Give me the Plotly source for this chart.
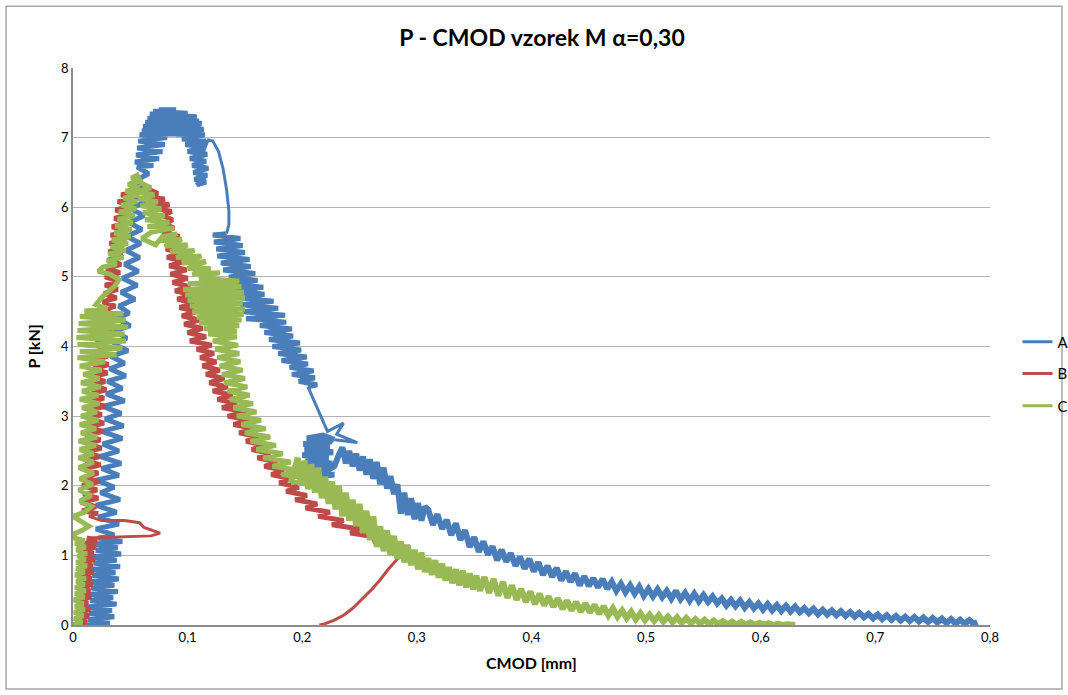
import plotly.graph_objects as go

# ---------------- data ----------------
x_ticks = [0, 0.1, 0.2, 0.3, 0.4, 0.5, 0.6, 0.7, 0.8]
x_tick_labels = ["0", "0,1", "0,2", "0,3", "0,4", "0,5", "0,6", "0,7", "0,8"]
y_ticks = [0, 1, 2, 3, 4, 5, 6, 7, 8]
y_tick_labels = ["0", "1", "2", "3", "4", "5", "6", "7", "8"]

series_names = ["A", "B", "C"]
series_colors = ["#4A7EBB", "#BE4B48", "#98B954"]

# Each measured curve (CMOD [mm], P [kN]) is stored in consecutive pieces.
A_rise = [
    (0.012,0.0),(0.032,0.03),(0.013,0.08),(0.036,0.12),(0.014,0.17),(0.034,0.21),(0.012,0.26),(0.038,0.3),
    (0.015,0.35),(0.035,0.39),(0.013,0.44),(0.039,0.48),(0.016,0.53),(0.036,0.57),(0.014,0.62),(0.04,0.66),
    (0.017,0.71),(0.037,0.75),(0.015,0.8),(0.041,0.84),(0.018,0.89),(0.038,0.93),(0.016,0.98),(0.042,1.02),
    (0.02,1.07),(0.039,1.11),(0.018,1.16),(0.043,1.2),(0.022,1.25),(0.036,1.29),
    (0.02,1.38),(0.04,1.45),(0.022,1.55),(0.038,1.62),(0.02,1.72),(0.041,1.8),(0.024,1.9),(0.036,1.98),
    (0.02,2.08),(0.04,2.15),(0.025,2.25),(0.042,2.32),(0.024,2.42),(0.04,2.5),
    (0.026,2.6),(0.043,2.68),(0.025,2.78),(0.044,2.86),(0.028,2.96),(0.042,3.04),(0.026,3.14),(0.045,3.22),
    (0.029,3.32),(0.043,3.4),(0.03,3.5),(0.046,3.58),(0.032,3.68),(0.045,3.76),(0.033,3.86),(0.048,3.94),
    (0.035,4.04),(0.047,4.12),(0.036,4.22),(0.05,4.3),(0.038,4.4),(0.049,4.48),(0.04,4.58),
    (0.054,4.68),(0.042,4.78),(0.056,4.88),(0.043,4.98),(0.057,5.08),(0.045,5.18),(0.058,5.28),(0.046,5.38),
    (0.059,5.48),(0.047,5.58),(0.06,5.68),(0.049,5.78),(0.062,5.88),(0.05,5.98),(0.063,6.08),(0.052,6.18),
    (0.064,6.28),(0.054,6.38),(0.066,6.48),(0.056,6.58),
    (0.07,6.6),(0.054,6.65),(0.075,6.7),(0.055,6.75),(0.078,6.8),(0.056,6.85),(0.08,6.9),(0.057,6.95),
    (0.082,7.0),(0.058,7.04),(0.1,7.06),(0.06,7.1),(0.105,7.12),(0.061,7.16),(0.108,7.18),(0.063,7.22),
    (0.11,7.24),(0.065,7.28),(0.108,7.3),(0.067,7.34),(0.1,7.35),(0.07,7.38),(0.09,7.4),(0.075,7.4),
    (0.112,7.2),(0.085,7.15),(0.114,7.12),
    (0.09,7.05),(0.115,7.04),(0.095,6.98),(0.116,6.95),(0.098,6.9),(0.115,6.86),(0.1,6.8),(0.117,6.76),
    (0.102,6.7),(0.116,6.66),(0.104,6.6),(0.118,6.56),(0.105,6.5),(0.117,6.46),(0.106,6.4),(0.116,6.36),
    (0.108,6.32),(0.114,6.42),(0.11,6.6),(0.113,6.8),(0.117,6.97),
]
A_arc = [(0.117,6.97),(0.122,6.95),(0.127,6.8),(0.131,6.55),(0.134,6.25),(0.136,5.95),(0.136,5.75),(0.134,5.62)]
A_band = [
    (0.134,5.62),
    (0.122,5.6),(0.146,5.55),(0.123,5.5),(0.148,5.45),(0.125,5.4),(0.15,5.35),(0.126,5.3),(0.154,5.25),
    (0.129,5.2),(0.155,5.15),(0.131,5.1),(0.159,5.05),(0.136,5.0),(0.161,4.95),(0.138,4.9),(0.166,4.85),
    (0.14,4.8),(0.167,4.75),(0.145,4.7),(0.175,4.65),(0.146,4.6),(0.179,4.55),(0.148,4.5),(0.185,4.45),
    (0.151,4.4),(0.186,4.35),(0.163,4.3),(0.191,4.25),(0.167,4.2),(0.192,4.15),(0.171,4.1),(0.198,4.05),
    (0.174,4.0),(0.199,3.95),(0.179,3.9),(0.204,3.85),(0.182,3.8),(0.205,3.75),(0.189,3.7),(0.21,3.65),
    (0.191,3.6),(0.211,3.55),(0.197,3.5),(0.213,3.45),(0.205,3.42),
]
A_jump = [(0.205,3.42),(0.222,2.78),(0.236,2.9),(0.23,2.74),(0.248,2.62),(0.228,2.66)]
A_tail = [
    (0.228,2.66),
    (0.218,2.72),(0.204,2.68),(0.226,2.64),(0.201,2.6),(0.224,2.56),(0.202,2.52),(0.227,2.48),(0.2,2.44),
    (0.223,2.4),(0.203,2.36),(0.226,2.32),(0.205,2.28),(0.224,2.24),(0.206,2.2),(0.228,2.16),(0.212,2.13),
    (0.228,2.28),(0.232,2.45),
    (0.235,2.55),(0.238,2.32),(0.241,2.5),(0.244,2.28),(0.247,2.46),(0.25,2.22),(0.253,2.42),(0.256,2.16),
    (0.259,2.38),(0.262,2.1),(0.265,2.34),(0.268,2.02),(0.271,2.26),(0.274,1.96),(0.277,2.14),(0.28,1.88),
    (0.283,2.02),(0.286,1.6),(0.289,1.9),(0.292,1.58),(0.295,1.82),(0.298,1.52),(0.301,1.75),(0.304,1.5),
    (0.307,1.7),
    (0.31,1.65),(0.314,1.44),(0.318,1.59),(0.322,1.38),(0.326,1.51),(0.33,1.29),(0.334,1.46),(0.338,1.22),
    (0.342,1.36),(0.346,1.12),(0.35,1.26),(0.354,1.05),(0.358,1.2),(0.362,1.01),(0.366,1.13),(0.37,0.93),
    (0.374,1.08),(0.378,0.91),(0.382,1.03),(0.386,0.85),(0.39,0.98),(0.394,0.81),(0.398,0.95),(0.402,0.77),
    (0.406,0.9),(0.41,0.72),(0.414,0.85),(0.418,0.69),(0.422,0.82),(0.426,0.64),(0.43,0.77),(0.434,0.62),
    (0.438,0.74),(0.442,0.57),(0.446,0.7),(0.45,0.56),(0.454,0.67),(0.458,0.54),(0.462,0.66),(0.466,0.52),
    (0.47,0.62),(0.474,0.49),(0.478,0.59),(0.482,0.47),(0.486,0.57),(0.49,0.45),(0.494,0.55),(0.498,0.42),
    (0.502,0.52),(0.506,0.41),(0.51,0.51),(0.514,0.4),(0.518,0.49),(0.522,0.38),(0.526,0.49),(0.53,0.37),
    (0.534,0.46),(0.538,0.35),(0.542,0.45),(0.546,0.34),(0.55,0.43),(0.554,0.33),(0.558,0.41),(0.562,0.31),
    (0.566,0.38),(0.57,0.28),(0.574,0.36),(0.578,0.27),(0.582,0.35),(0.586,0.25),(0.59,0.33),(0.594,0.24),
    (0.598,0.31),(0.602,0.22),(0.606,0.3),(0.61,0.21),(0.614,0.285),(0.618,0.2),(0.622,0.275),(0.626,0.195),
    (0.63,0.265),(0.634,0.185),(0.638,0.245),(0.642,0.17),(0.646,0.235),(0.65,0.155),(0.654,0.22),(0.658,0.15),
    (0.662,0.21),(0.666,0.14),(0.67,0.2),(0.674,0.13),(0.678,0.185),(0.682,0.12),(0.686,0.175),(0.69,0.11),
    (0.694,0.16),(0.698,0.095),(0.702,0.15),(0.706,0.085),(0.71,0.14),(0.714,0.075),(0.718,0.13),(0.722,0.065),
    (0.726,0.12),(0.73,0.058),(0.734,0.115),(0.738,0.052),(0.742,0.108),(0.746,0.044),(0.75,0.1),(0.754,0.036),
    (0.758,0.092),(0.762,0.028),(0.766,0.084),(0.77,0.02),(0.774,0.077),(0.778,0.019),(0.782,0.07),(0.786,0.016),
    (0.789,0.04),
]

B_rise1 = [
    (0.0,0.0),(0.012,0.04),(0.003,0.09),(0.014,0.13),(0.004,0.18),(0.015,0.22),(0.003,0.27),(0.013,0.31),
    (0.005,0.36),(0.016,0.4),(0.004,0.45),(0.015,0.49),(0.006,0.54),(0.017,0.58),(0.005,0.63),(0.016,0.67),
    (0.007,0.72),(0.018,0.76),(0.006,0.81),(0.017,0.85),(0.008,0.9),(0.019,0.94),(0.007,0.99),(0.018,1.03),
    (0.009,1.08),(0.02,1.12),(0.01,1.17),(0.021,1.21),(0.012,1.25),
]
B_spike = [(0.012,1.25),(0.05,1.27),(0.068,1.28),(0.076,1.32),(0.068,1.36),(0.062,1.4),(0.058,1.47),
           (0.045,1.5),(0.025,1.5),(0.014,1.56),(0.022,1.6)]
B_main = [
    (0.022,1.6),
    (0.008,1.64),(0.02,1.7),(0.007,1.76),(0.022,1.82),(0.009,1.88),(0.021,1.94),(0.008,2.0),(0.023,2.06),
    (0.01,2.12),(0.022,2.18),(0.009,2.24),(0.024,2.3),(0.011,2.36),(0.023,2.42),(0.01,2.48),(0.025,2.54),
    (0.012,2.6),(0.024,2.66),(0.011,2.72),(0.026,2.78),(0.013,2.84),(0.027,2.9),(0.014,2.96),(0.025,3.02),
    (0.013,3.08),(0.028,3.14),(0.015,3.2),(0.027,3.26),(0.016,3.32),(0.029,3.38),(0.017,3.44),(0.028,3.5),
    (0.016,3.56),(0.03,3.62),(0.018,3.68),(0.031,3.74),(0.019,3.8),(0.03,3.86),(0.018,3.92),(0.032,3.98),
    (0.02,4.04),(0.033,4.1),(0.022,4.16),(0.034,4.22),(0.023,4.28),(0.035,4.34),(0.024,4.4),(0.036,4.46),
    (0.025,4.52),(0.037,4.58),(0.026,4.64),(0.038,4.7),(0.027,4.76),(0.039,4.82),(0.028,4.88),(0.04,4.94),
    (0.028,5.0),(0.041,5.06),(0.029,5.12),(0.042,5.18),(0.03,5.24),(0.043,5.3),(0.031,5.36),(0.044,5.42),
    (0.032,5.48),(0.046,5.54),(0.033,5.6),(0.047,5.66),(0.034,5.72),(0.048,5.78),(0.036,5.84),(0.05,5.9),
    (0.037,5.96),(0.052,6.02),(0.039,6.08),(0.055,6.12),(0.042,6.18),(0.058,6.22),(0.05,6.28),(0.068,6.24),
    (0.074,6.2),(0.066,6.14),(0.08,6.12),(0.07,6.06),(0.084,6.04),(0.074,5.98),(0.086,5.94),(0.078,5.88),
    (0.087,5.82),(0.08,5.76),(0.088,5.7),
    (0.078,5.64),(0.093,5.58),(0.08,5.52),(0.094,5.46),(0.081,5.4),(0.095,5.34),(0.082,5.28),(0.097,5.22),
    (0.084,5.16),(0.099,5.1),(0.085,5.04),(0.1,4.98),(0.087,4.92),(0.102,4.86),(0.089,4.8),(0.104,4.74),
    (0.091,4.68),(0.106,4.62),(0.093,4.56),(0.108,4.5),(0.095,4.44),(0.11,4.38),(0.097,4.32),(0.113,4.26),
    (0.1,4.2),(0.116,4.14),(0.102,4.08),(0.121,4.02),(0.108,3.96),(0.123,3.9),(0.111,3.84),(0.125,3.78),
    (0.113,3.72),(0.128,3.66),(0.116,3.6),(0.132,3.54),(0.119,3.48),(0.135,3.42),(0.122,3.36),(0.139,3.3),
    (0.126,3.24),(0.143,3.18),(0.13,3.12),(0.152,3.06),(0.135,3.0),(0.155,2.94),(0.14,2.88),(0.158,2.82),
    (0.145,2.76),(0.162,2.7),(0.151,2.64),(0.167,2.58),(0.156,2.52),(0.172,2.46),(0.161,2.4),(0.178,2.34),
    (0.167,2.28),(0.184,2.22),(0.173,2.16),(0.19,2.1),(0.18,2.04),(0.197,1.98),(0.186,1.92),(0.204,1.86),
    (0.194,1.8),(0.213,1.74),(0.203,1.68),(0.224,1.62),(0.214,1.56),(0.236,1.5),(0.226,1.44),(0.25,1.38),
    (0.242,1.32),(0.266,1.26),(0.262,1.2),(0.28,1.16),(0.278,1.12),(0.294,1.12),
]
B_unload = [(0.294,1.12),(0.288,1.04),(0.282,0.93),(0.275,0.8),(0.268,0.65),(0.26,0.5),(0.252,0.37),
            (0.244,0.24),(0.236,0.14),(0.228,0.07),(0.22,0.02),(0.215,0.0)]

C_rise = [
    (0.0,0.0),(0.008,0.04),(0.001,0.09),(0.009,0.13),(0.001,0.18),(0.01,0.22),(0.002,0.27),(0.009,0.31),
    (0.001,0.36),(0.01,0.4),(0.002,0.45),(0.011,0.49),(0.002,0.54),(0.01,0.58),(0.003,0.63),(0.011,0.67),
    (0.002,0.72),(0.01,0.76),(0.003,0.81),(0.012,0.85),(0.003,0.9),(0.011,0.94),(0.004,0.99),(0.012,1.03),
    (0.003,1.08),(0.011,1.12),(0.002,1.17),(0.01,1.21),(0.001,1.25),
    (0.0,1.3),(0.008,1.36),(0.014,1.42),(0.006,1.5),(0.0,1.56),(0.01,1.62),(0.016,1.7),(0.006,1.78),
    (0.016,1.86),(0.005,1.94),(0.017,2.02),(0.006,2.1),(0.018,2.18),(0.005,2.26),(0.018,2.34),
    (0.005,2.4),(0.018,2.46),(0.006,2.52),(0.02,2.58),(0.005,2.64),(0.021,2.7),(0.007,2.76),(0.02,2.82),
    (0.006,2.88),(0.022,2.94),(0.007,3.0),(0.021,3.06),(0.008,3.12),(0.023,3.18),(0.006,3.24),(0.022,3.3),
    (0.008,3.36),(0.024,3.42),(0.007,3.48),(0.023,3.54),(0.009,3.6),(0.025,3.66),(0.006,3.72),(0.028,3.78),
    (0.004,3.84),(0.038,3.88),(0.006,3.93),(0.043,3.98),(0.004,4.03),(0.046,4.08),(0.003,4.13),(0.045,4.18),
    (0.004,4.23),(0.048,4.28),(0.005,4.33),(0.046,4.38),(0.006,4.43),(0.044,4.47),(0.01,4.51),(0.03,4.54),
    (0.02,4.6),(0.026,4.72),(0.036,4.86),(0.04,4.96),(0.032,5.04),(0.022,5.08),(0.026,5.14),
    (0.038,5.18),(0.03,5.23),(0.044,5.28),(0.031,5.33),(0.046,5.38),(0.033,5.43),(0.048,5.48),(0.034,5.53),
    (0.05,5.58),(0.036,5.63),(0.051,5.68),(0.037,5.73),(0.052,5.78),(0.039,5.83),(0.054,5.88),(0.04,5.93),
    (0.055,5.98),(0.042,6.03),(0.056,6.08),(0.044,6.13),(0.057,6.18),(0.046,6.23),(0.058,6.28),(0.048,6.33),
    (0.058,6.38),(0.051,6.42),(0.056,6.46),
    (0.06,6.34),(0.068,6.28),(0.055,6.22),(0.071,6.18),(0.057,6.12),(0.074,6.08),(0.059,6.02),(0.077,5.98),
    (0.061,5.92),(0.08,5.88),(0.063,5.82),(0.084,5.78),(0.065,5.72),(0.088,5.7),(0.068,5.64),(0.06,5.55),
    (0.072,5.46),(0.078,5.58),(0.091,5.62),(0.076,5.52),(0.095,5.54),(0.08,5.44),(0.1,5.46),(0.085,5.36),
    (0.106,5.38),(0.09,5.28),(0.112,5.3),(0.095,5.2),(0.116,5.22),(0.1,5.12),(0.12,5.12),(0.104,5.04),
    (0.128,5.06),(0.11,4.98),
    (0.145,4.94),(0.1,4.9),(0.147,4.86),(0.096,4.82),(0.149,4.78),(0.098,4.74),(0.15,4.7),(0.1,4.66),
    (0.148,4.62),(0.102,4.58),(0.15,4.54),(0.104,4.5),(0.149,4.46),(0.108,4.42),(0.147,4.38),(0.11,4.34),
    (0.145,4.3),(0.114,4.26),(0.143,4.22),(0.118,4.18),
    (0.143,4.14),(0.122,4.08),(0.144,4.02),(0.124,3.96),(0.145,3.9),(0.126,3.84),(0.146,3.78),(0.128,3.72),
    (0.148,3.66),(0.13,3.6),(0.15,3.54),(0.132,3.48),(0.152,3.42),(0.135,3.36),(0.154,3.3),(0.137,3.24),
    (0.157,3.18),(0.14,3.12),(0.16,3.06),(0.143,3.0),(0.164,2.94),(0.147,2.88),(0.168,2.82),(0.15,2.76),
    (0.172,2.7),(0.155,2.64),(0.177,2.58),(0.16,2.52),(0.183,2.46),(0.166,2.4),(0.19,2.34),(0.174,2.28),
    (0.198,2.22),(0.182,2.16),(0.207,2.1),(0.19,2.04),
]
C_tail = [
    (0.19,2.04),
    (0.196,2.4),(0.199,2.0),(0.202,2.36),(0.205,1.95),(0.208,2.31),(0.211,1.9),(0.214,2.26),(0.217,1.82),
    (0.22,2.13),(0.223,1.74),(0.226,2.06),(0.229,1.66),(0.232,2.0),(0.235,1.56),(0.238,1.9),(0.241,1.5),
    (0.244,1.8),(0.247,1.42),(0.25,1.74),(0.253,1.32),(0.256,1.64),(0.259,1.22),(0.262,1.56),(0.265,1.12),
    (0.268,1.42),(0.271,1.06),(0.274,1.36),(0.277,1.0),(0.28,1.28),(0.283,0.95),(0.286,1.2),(0.289,0.9),
    (0.292,1.14),(0.295,0.86),(0.298,1.08),(0.301,0.8),(0.304,1.04),(0.307,0.76),(0.31,0.96),(0.313,0.72),
    (0.316,0.93),(0.319,0.68),(0.322,0.88),(0.325,0.64),(0.328,0.83),(0.331,0.6),(0.334,0.8),(0.337,0.57),
    (0.34,0.78),(0.343,0.54),(0.346,0.74),(0.349,0.51),(0.352,0.71),(0.355,0.49),(0.359,0.69),(0.363,0.46),
    (0.367,0.66),(0.371,0.42),(0.375,0.62),(0.379,0.39),(0.383,0.57),(0.387,0.36),(0.391,0.52),(0.395,0.33),
    (0.399,0.48),(0.403,0.3),(0.407,0.45),(0.411,0.28),(0.415,0.41),(0.419,0.26),(0.423,0.38),(0.427,0.23),
    (0.431,0.35),(0.435,0.21),(0.439,0.33),(0.443,0.19),(0.447,0.31),(0.451,0.18),(0.455,0.29),(0.459,0.16),
    (0.463,0.27),(0.467,0.14),(0.471,0.24),(0.475,0.12),(0.479,0.21),(0.483,0.1),(0.487,0.19),(0.491,0.08),
    (0.495,0.17),(0.499,0.07),(0.503,0.15),(0.507,0.06),(0.511,0.14),(0.515,0.05),(0.519,0.12),(0.523,0.04),
    (0.527,0.11),(0.531,0.03),(0.535,0.1),(0.539,0.025),(0.543,0.085),(0.547,0.02),(0.551,0.075),(0.555,0.015),
    (0.559,0.065),(0.563,0.01),(0.567,0.055),(0.571,0.008),(0.575,0.05),(0.579,0.005),(0.583,0.045),(0.587,0.004),
    (0.591,0.038),(0.595,0.003),(0.599,0.032),(0.603,0.002),(0.607,0.025),(0.611,0.0),(0.615,0.02),(0.619,0.0),
    (0.623,0.012),(0.63,0.0),
]

# pieces per series with a stroke class: "smooth", "noisy", "ribbon"
series_pieces = [
    [(A_rise, "noisy"), (A_arc, "smooth"), (A_band, "noisy"), (A_jump, "smooth"), (A_tail, "ribbon")],
    [(B_rise1, "noisy"), (B_spike, "smooth"), (B_main, "noisy"), (B_unload, "smooth")],
    [(C_rise, "noisy"), (C_tail, "ribbon")],
]
legend_ypos = [0.508, 0.451, 0.393]   # legend rows (paper fraction)

# ---------------- figure ----------------
FONT = "Lato, 'Open Sans', sans-serif"
STROKE = {"smooth": 3, "noisy": 5, "ribbon": 6}
fig = go.Figure()
legend_ids = ["legend", "legend2", "legend3"]
for name, color, pieces, lg in zip(series_names, series_colors, series_pieces, legend_ids):
    for pts, kind in pieces:
        fig.add_trace(go.Scatter(
            x=[p[0] for p in pts], y=[p[1] for p in pts],
            mode="lines", name=name, legendgroup=name,
            showlegend=False, hoverinfo="skip",
            line=dict(color=color, width=STROKE[kind]),
        ))
    # legend entry for the series (thin key line, as in the reference legend)
    fig.add_trace(go.Scatter(
        x=[None], y=[None], mode="lines", name=name, legend=lg, legendgroup=name,
        showlegend=True, hoverinfo="skip", line=dict(color=color, width=3),
    ))

leg_common = dict(
    xanchor="left", yanchor="middle", bgcolor="rgba(0,0,0,0)",
    font=dict(family=FONT, size=15, color="#000"), borderwidth=0,
)
fig.update_layout(
    width=1068, height=695,
    showlegend=True,
    margin=dict(l=73, r=78, t=68, b=70, autoexpand=False),
    paper_bgcolor="white", plot_bgcolor="white",
    title=dict(text="<b>P - CMOD vzorek M α=0,30</b>", x=0.5075, xanchor="center",
               y=0.945, yanchor="middle", font=dict(family=FONT, size=23, color="#000")),
    legend=dict(x=1.03, y=legend_ypos[0], **leg_common),
    legend2=dict(x=1.03, y=legend_ypos[1], **leg_common),
    legend3=dict(x=1.03, y=legend_ypos[2], **leg_common),
    xaxis=dict(range=[0, 0.8], tickvals=x_ticks, ticktext=x_tick_labels, showgrid=False,
               zeroline=False, showline=True, linecolor="#8c8c8c", linewidth=1.5,
               ticks="", automargin=False, tickfont=dict(family=FONT, size=13, color="#000")),
    yaxis=dict(range=[0, 8], tickvals=y_ticks, ticktext=y_tick_labels, showgrid=True,
               gridcolor="#b3b3b3", gridwidth=1, zeroline=False, showline=True,
               linecolor="#8c8c8c", linewidth=1.5, ticks="", automargin=False,
               tickfont=dict(family=FONT, size=13, color="#000")),
    annotations=[
        dict(text="<b>CMOD [mm]</b>", xref="paper", yref="paper", x=0.5, y=-0.068,
             xanchor="center", yanchor="middle", showarrow=False,
             font=dict(family=FONT, size=16, color="#000")),
        dict(text="<b>P [kN]</b>", xref="paper", yref="paper", x=-0.0436, y=0.5,
             xanchor="center", yanchor="middle", showarrow=False, textangle=-90,
             font=dict(family=FONT, size=16, color="#000")),
    ],
    shapes=[dict(type="rect", xref="paper", yref="paper",
                 x0=-0.073, x1=1.0785, y0=-0.115, y1=1.111,
                 line=dict(color="#a6a6a6", width=1.5), fillcolor="rgba(0,0,0,0)", layer="below")],
)
fig.write_html("out.html", config={"displayModeBar": False},
               post_script="document.body.style.margin='0';")
